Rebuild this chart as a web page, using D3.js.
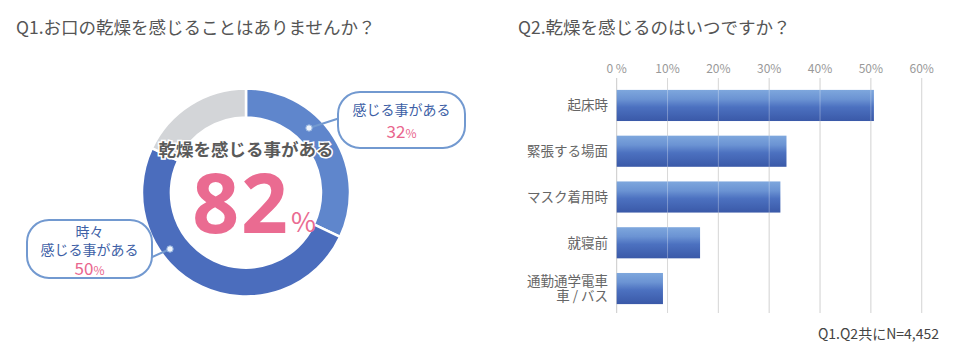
<!DOCTYPE html>
<html><head><meta charset="utf-8">
<script src="https://cdn.jsdelivr.net/npm/d3@7"></script>
<style>
html,body{margin:0;padding:0;background:#fff;}
svg{display:block;font-family:"Noto Sans CJK JP","Noto Sans",sans-serif;}
</style></head>
<body>
<svg id="c" width="957" height="359"></svg>
<script>
// ---- data ----
const donutLabels = ["感じる事がある", "時々感じる事がある", "感じない"];
const donutValues = [32, 50, 18];
const donutTotal = 82;

const barCategories = ["起床時", "緊張する場面", "マスク着用時", "就寝前", "通勤通学電車/車/バス"];
const barLabelLines = [["起床時"], ["緊張する場面"], ["マスク着用時"], ["就寝前"], ["通勤通学電車", "車 / バス"]];
const barValues = [50.6, 33.4, 32.2, 16.4, 9.1];
const tickValues = [0, 10, 20, 30, 40, 50, 60];
const tickLabels = ["0 %", "10%", "20%", "30%", "40%", "50%", "60%"];

const svg = d3.select("#c");
const defs = svg.append("defs");

// ---- titles ----
svg.append("text").attr("x", 16).attr("y", 34).attr("font-size", 17.5).attr("fill", "#555")
  .text("Q1.お口の乾燥を感じることはありませんか？");
svg.append("text").attr("x", 518).attr("y", 34).attr("font-size", 17.5).attr("fill", "#555")
  .text("Q2.乾燥を感じるのはいつですか？");

// ---- donut ----
const cx = 246, cy = 192.5, rOut = 104, rIn = 75;
function radGrad(id, c1, c2) {
  const g = defs.append("radialGradient").attr("id", id).attr("gradientUnits", "userSpaceOnUse")
    .attr("cx", cx).attr("cy", cy).attr("r", rOut);
  g.append("stop").attr("offset", rIn / rOut).attr("stop-color", c1);
  g.append("stop").attr("offset", 1).attr("stop-color", c2);
}
radGrad("g1", "#90b2e4", "#5f86cc");
radGrad("g2", "#7d9bd7", "#4b6dbd");
const fills = ["url(#g1)", "url(#g2)", "#d3d5d8"];

const pie = d3.pie().sort(null).value(d => d)(donutValues);
const arc = d3.arc().innerRadius(rIn).outerRadius(rOut);
const dg = svg.append("g").attr("transform", `translate(${cx},${cy})`);
dg.selectAll("path").data(pie).join("path")
  .attr("d", arc).attr("fill", (d, i) => fills[i])
  .attr("stroke", "#fff").attr("stroke-width", 2.5);

// centre text
svg.append("text").attr("x", cx).attr("y", 156).attr("text-anchor", "middle")
  .attr("font-size", 17.5).attr("font-weight", 700).attr("fill", "#5a5a5a")
  .attr("stroke", "#fff").attr("stroke-width", 3).attr("paint-order", "stroke")
  .text("乾燥を感じる事がある");
svg.append("text").attr("x", 290).attr("y", 233).attr("text-anchor", "end")
  .attr("font-size", 82).attr("font-weight", 700).attr("fill", "#ea6b91")
  .attr("font-family", "'Noto Sans',sans-serif").attr("letter-spacing", 2)
  .text(donutTotal);
svg.append("text").attr("x", 291).attr("y", 232)
  .attr("font-size", 27).attr("fill", "#ea6b91").text("%");

// callouts
function callout(x, y, w, h, lines, valY, val, dot, edge) {
  svg.append("line").attr("x1", dot[0]).attr("y1", dot[1]).attr("x2", edge[0]).attr("y2", edge[1])
    .attr("stroke", "#7299d0").attr("stroke-width", 2);
  svg.append("circle").attr("cx", dot[0]).attr("cy", dot[1]).attr("r", 3.2)
    .attr("fill", "#eef3fb").attr("stroke", "#8fb0de").attr("stroke-width", 1);
  svg.append("rect").attr("x", x).attr("y", y).attr("width", w).attr("height", h)
    .attr("rx", 22).attr("ry", 22).attr("fill", "#fff")
    .attr("stroke", "#7299d0").attr("stroke-width", 2);
  const mx = x + w / 2;
  lines.forEach(l => {
    svg.append("text").attr("x", mx).attr("y", l[1]).attr("text-anchor", "middle")
      .attr("font-size", 14).attr("fill", "#3e5fa6").text(l[0]);
  });
  const t = svg.append("text").attr("x", mx).attr("y", valY).attr("text-anchor", "middle")
    .attr("fill", "#e9668e");
  t.append("tspan").attr("font-size", 17).text(val);
  t.append("tspan").attr("font-size", 12).text("%");
}
callout(338, 92, 127, 56, [["感じる事がある", 115]], 138, donutValues[0], [309, 128], [340, 118]);
callout(27, 220, 125, 58, [["時々", 237], ["感じる事がある", 255]], 275, donutValues[1], [170, 249], [150, 258]);

// ---- bar chart ----
const x = d3.scaleLinear().domain([0, 60]).range([616.7, 921.7]);
const y = d3.scaleBand().domain(barCategories).range([78, 316]).paddingInner(0.32).paddingOuter(0.26);

const lg = defs.append("linearGradient").attr("id", "bg").attr("x1", 0).attr("y1", 0).attr("x2", 0).attr("y2", 1);
[[0, "#7ea7dd"], [0.3, "#6b93d3"], [0.55, "#4c71c0"], [1, "#3a59a8"]].forEach(s =>
  lg.append("stop").attr("offset", s[0]).attr("stop-color", s[1]));

// grid under
const grid = svg.append("g");
grid.selectAll("line").data(tickValues).join("line")
  .attr("x1", d => x(d)).attr("x2", d => x(d)).attr("y1", 78).attr("y2", 313)
  .attr("stroke", "#c9c9c9").attr("stroke-width", 1);

svg.append("g").selectAll("rect").data(barValues).join("rect")
  .attr("x", x(0)).attr("y", (d, i) => y(barCategories[i]))
  .attr("width", d => x(d) - x(0)).attr("height", y.bandwidth())
  .attr("fill", "url(#bg)");

// grid over bars (faint)
svg.append("g").selectAll("line").data(tickValues.slice(1)).join("line")
  .attr("x1", d => x(d)).attr("x2", d => x(d)).attr("y1", 78).attr("y2", 313)
  .attr("stroke", "#ffffff").attr("stroke-opacity", 0.3).attr("stroke-width", 1);

// tick labels
svg.append("g").selectAll("text").data(tickValues).join("text")
  .attr("x", d => x(d)).attr("y", 73).attr("text-anchor", "middle")
  .attr("font-size", 12).attr("fill", "#999").text((d, i) => tickLabels[i]);

// category labels
barCategories.forEach((c, i) => {
  const lines = barLabelLines[i];
  const mid = y(c) + y.bandwidth() / 2;
  const lh = 15.5;
  const start = mid + 5 - (lines.length - 1) * lh / 2;
  const t = svg.append("text").attr("text-anchor", "end").attr("font-size", 13.5).attr("fill", "#666");
  lines.forEach((l, j) => t.append("tspan").attr("x", 608).attr("y", start + j * lh).text(l));
});

// footnote
svg.append("text").attr("x", 939).attr("y", 339).attr("text-anchor", "end")
  .attr("font-size", 14).attr("fill", "#444").text("Q1.Q2共にN=4,452");
</script>
</body></html>
